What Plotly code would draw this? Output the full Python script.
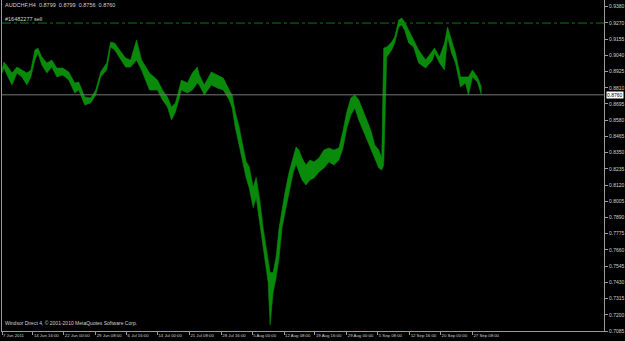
import plotly.graph_objects as go

# Bar index (H4 bars, ~1 px per bar) and high/low prices
bars = [0, 2, 6, 10, 15, 20, 25, 29, 33, 36, 40, 45, 50, 55, 61, 67, 73, 77, 83, 89,
        94, 99, 105, 109, 113, 118, 124, 129, 135, 140, 148, 156, 161, 166, 170, 174,
        180, 186, 191, 196, 198, 203, 210, 216, 222, 228, 231, 234, 238, 241, 245, 248,
        252, 255, 259, 262, 265, 267, 269, 272, 275, 278, 281, 284, 288, 292, 295, 298,
        301, 305, 309, 313, 318, 323, 328, 333, 338, 342, 346, 350, 354, 358, 362, 366,
        370, 374, 378, 381, 383, 386, 391, 394, 398, 401, 404, 408, 413, 418, 425, 432,
        434, 439, 444, 447, 451, 455, 460, 465, 468, 472, 477, 481]
high = [0.8936, 0.8993, 0.8957, 0.8915, 0.8957, 0.8936, 0.8915, 0.8936, 0.9078, 0.9092,
        0.9028, 0.8986, 0.9007, 0.8950, 0.8950, 0.8922, 0.8844, 0.8851, 0.8745, 0.8738,
        0.8794, 0.8922, 0.8986, 0.9135, 0.9128, 0.9078, 0.9021, 0.9007, 0.9149, 0.9007,
        0.8915, 0.8865, 0.8794, 0.8745, 0.8674, 0.8702, 0.8865, 0.8844, 0.8915, 0.8957,
        0.8901, 0.8830, 0.8922, 0.8901, 0.8879, 0.8794, 0.8759, 0.8640, 0.8530, 0.8420,
        0.8285, 0.8250, 0.8105, 0.8175, 0.7995, 0.7815, 0.7680, 0.7610, 0.7500, 0.7500,
        0.7610, 0.7815, 0.7960, 0.8070, 0.8210, 0.8320, 0.8390, 0.8369, 0.8312, 0.8263,
        0.8298, 0.8284, 0.8312, 0.8369, 0.8383, 0.8369, 0.8383, 0.8500, 0.8640, 0.8738,
        0.8759, 0.8724, 0.8653, 0.8582, 0.8511, 0.8404, 0.8369, 0.8312, 0.9092, 0.9099,
        0.9135, 0.9170, 0.9291, 0.9305, 0.9277, 0.9220, 0.9149, 0.9078, 0.9007, 0.9078,
        0.9092, 0.9028, 0.9128, 0.9241, 0.9149, 0.9057, 0.8887, 0.8887, 0.8887, 0.8936,
        0.8887, 0.8816]
low = [0.8915, 0.8950, 0.8887, 0.8830, 0.8915, 0.8887, 0.8830, 0.8887, 0.9007, 0.9057,
       0.8972, 0.8915, 0.8957, 0.8887, 0.8901, 0.8865, 0.8773, 0.8794, 0.8688, 0.8702,
       0.8759, 0.8887, 0.8936, 0.9099, 0.9078, 0.9021, 0.8957, 0.8957, 0.9007, 0.8936,
       0.8794, 0.8794, 0.8724, 0.8674, 0.8582, 0.8638, 0.8794, 0.8773, 0.8794, 0.8844,
       0.8830, 0.8759, 0.8830, 0.8809, 0.8794, 0.8724, 0.8665, 0.8530, 0.8390, 0.8285,
       0.8170, 0.8100, 0.7960, 0.8030, 0.7820, 0.7680, 0.7535, 0.7430, 0.7128, 0.7360,
       0.7465, 0.7605, 0.7820, 0.7925, 0.8065, 0.8205, 0.8270, 0.8213, 0.8156, 0.8121,
       0.8156, 0.8170, 0.8213, 0.8241, 0.8284, 0.8263, 0.8298, 0.8380, 0.8525, 0.8617,
       0.8667, 0.8582, 0.8511, 0.8440, 0.8369, 0.8298, 0.8241, 0.8227, 0.8263, 0.9028,
       0.9078, 0.9128, 0.9241, 0.9255, 0.9220, 0.9128, 0.9099, 0.8986, 0.8950, 0.9007,
       0.9057, 0.8986, 0.8936, 0.9170, 0.9057, 0.8986, 0.8816, 0.8844, 0.8759, 0.8887,
       0.8851, 0.8759]

price_ticks = [0.7085, 0.7200, 0.7315, 0.7430, 0.7545, 0.7660, 0.7775, 0.7890, 0.8005,
               0.8120, 0.8235, 0.8350, 0.8465, 0.8580, 0.8695, 0.8810, 0.8925, 0.9040,
               0.9155, 0.9270, 0.9385]
price_labels = ["0.7085", "0.7200", "0.7315", "0.7430", "0.7545", "0.7660", "0.7775",
                "0.7890", "0.8005", "0.8120", "0.8235", "0.8350", "0.8465", "0.8580",
                "0.8695", "0.8810", "0.8925", "0.9040", "0.9155", "0.9270", "0.9380"]
time_ticks = [0, 31, 62, 94, 125, 156, 188, 220, 251, 283, 314, 346, 377, 409, 440, 472]
time_labels = ["7 Jun 2011", "14 Jun 16:00", "22 Jun 00:00", "29 Jun 08:00", "6 Jul 16:00",
               "14 Jul 00:00", "21 Jul 08:00", "28 Jul 16:00", "5 Aug 00:00", "12 Aug 08:00",
               "19 Aug 16:00", "29 Aug 00:00", "5 Sep 08:00", "12 Sep 16:00", "20 Sep 00:00",
               "27 Sep 08:00"]

current_price = 0.8760
order_price = 0.9269
header_parts = ["AUDCHF,H4", "0.8799", "0.8799", "0.8756", "0.8760"]
order_label = "#16482277 sell"
footer = "Windsor Direct 4, \u00a9 2001-2010 MetaQuotes Software Corp."

GREEN = "#0a8a0a"
TXT = "#d0d0d0"
AXIS = "#9a9a9a"
FONT = "Liberation Sans"

fig = go.Figure()
fig.add_trace(go.Scatter(x=bars, y=low, mode="lines", line=dict(color=GREEN, width=0.6),
                         hoverinfo="skip", showlegend=False))
fig.add_trace(go.Scatter(x=bars, y=high, mode="lines", line=dict(color=GREEN, width=0.6),
                         fill="tonexty", fillcolor=GREEN, hoverinfo="skip", showlegend=False))

fig.add_shape(type="line", xref="paper", x0=0, x1=1, yref="y", y0=order_price, y1=order_price,
              line=dict(color="#0a7a0a", width=1, dash="dashdot"))
fig.add_shape(type="line", xref="paper", x0=0, x1=1, yref="y", y0=current_price, y1=current_price,
              line=dict(color="#767676", width=1))

fig.add_annotation(xref="paper", yref="paper", x=0, y=1, xanchor="left", yanchor="middle",
                   xshift=1, yshift=-5, text="\u00a0\u00a0".join(header_parts), showarrow=False,
                   font=dict(family=FONT, size=5.5, color=TXT))
fig.add_annotation(xref="paper", yref="paper", x=0, y=1, xanchor="left", yanchor="middle",
                   xshift=1, yshift=-19, text=order_label, showarrow=False,
                   font=dict(family=FONT, size=5.5, color=TXT))
fig.add_annotation(xref="paper", yref="paper", x=0, y=0, xanchor="left", yanchor="middle",
                   xshift=1, yshift=8, text=footer, showarrow=False,
                   font=dict(family=FONT, size=5, color=TXT))
fig.add_annotation(xref="paper", yref="y", x=1, y=current_price, xanchor="left", yanchor="middle",
                   xshift=2, text=f"{current_price:.4f}", showarrow=False, bgcolor="#ffffff",
                   borderpad=0, font=dict(family=FONT, size=5, color="#000000"))

fig.update_layout(
    width=625, height=341,
    margin=dict(l=2, r=19, t=0, b=10),
    paper_bgcolor="#000000", plot_bgcolor="#000000",
    font=dict(family=FONT, size=5, color=TXT),
    xaxis=dict(range=[0, 604], tickvals=time_ticks, ticktext=time_labels, tickangle=0,
               ticks="outside", ticklen=3, tickcolor=AXIS, ticklabelposition="outside right",
               showgrid=False, zeroline=False, showline=True, linecolor=AXIS, linewidth=1,
               tickfont=dict(family=FONT, size=4.3, color=TXT)),
    yaxis=dict(range=[0.7085, 0.94325], side="right", tickvals=price_ticks, ticktext=price_labels,
               ticks="outside", ticklen=3, tickcolor=AXIS, showgrid=False, zeroline=False,
               showline=True, linecolor=AXIS, linewidth=1, mirror=True,
               tickfont=dict(family=FONT, size=5, color=TXT)),
)

fig.write_html("out.html")
